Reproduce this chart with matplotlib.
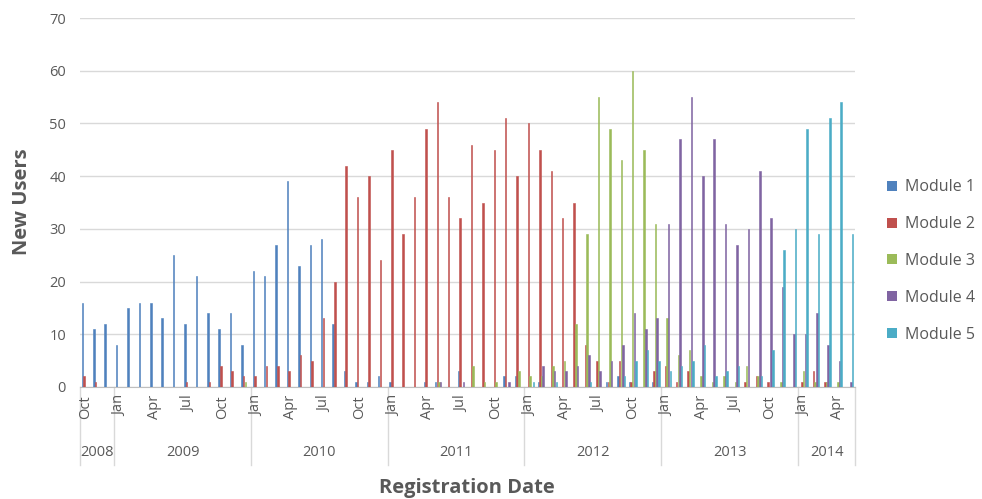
import matplotlib
matplotlib.use("Agg")
import matplotlib.pyplot as plt
import matplotlib.transforms as mtransforms
from matplotlib.patches import Patch
import numpy as np
import pandas as pd

plt.rcParams['font.family'] = ['Open Sans', 'DejaVu Sans']

# monthly categories, Oct 2008 .. May 2014
months = pd.period_range('2008-10', '2014-05', freq='M')
years = ['2008', '2009', '2010', '2011', '2012', '2013', '2014']

module1 = [16, 11, 12,
           8, 15, 16, 16, 13, 25, 12, 21, 14, 11, 14, 8,
           22, 21, 27, 39, 23, 27, 28, 12, 3, 1, 1, 2,
           1, 0, 0, 1, 1, 0, 3, 0, 0, 0, 2, 2,
           0, 1, 0, 0, 0, 0, 0, 1, 2, 1, 0, 1,
           0, 0, 0, 0, 0, 0, 0, 0, 0, 0, 0, 0,
           0, 0, 0, 0, 0]
module2 = [2, 1, 0,
           0, 0, 0, 0, 0, 0, 1, 0, 1, 4, 3, 2,
           2, 4, 4, 3, 6, 5, 13, 20, 42, 36, 40, 24,
           45, 29, 36, 49, 54, 36, 32, 46, 35, 45, 51, 40,
           50, 45, 41, 32, 35, 8, 5, 1, 5, 1, 0, 3,
           4, 1, 3, 0, 0, 0, 0, 1, 2, 1, 0, 0,
           1, 3, 1, 0, 0]
module3 = [0, 0, 0,
           0, 0, 0, 0, 0, 0, 0, 0, 0, 0, 0, 1,
           0, 0, 0, 0, 0, 0, 0, 0, 0, 0, 0, 0,
           0, 0, 0, 0, 1, 0, 0, 4, 1, 1, 0, 3,
           2, 2, 4, 5, 12, 29, 55, 49, 43, 60, 45, 31,
           13, 6, 7, 2, 1, 2, 1, 4, 2, 0, 1, 0,
           3, 1, 1, 1, 0]
module4 = [0, 0, 0,
           0, 0, 0, 0, 0, 0, 0, 0, 0, 0, 0, 0,
           0, 0, 0, 0, 0, 0, 0, 0, 0, 0, 0, 0,
           0, 0, 0, 0, 1, 0, 1, 0, 0, 0, 1, 0,
           0, 4, 3, 3, 4, 6, 3, 5, 8, 14, 11, 13,
           31, 47, 55, 40, 47, 31, 27, 30, 41, 32, 19, 10,
           10, 14, 8, 5, 1]
module5 = [0, 0, 0,
           0, 0, 0, 0, 0, 0, 0, 0, 0, 0, 0, 0,
           0, 0, 0, 0, 0, 0, 0, 0, 0, 0, 0, 0,
           0, 0, 0, 0, 0, 0, 0, 0, 0, 0, 0, 0,
           1, 0, 1, 0, 0, 1, 0, 0, 2, 5, 7, 5,
           3, 4, 5, 8, 2, 3, 4, 0, 2, 7, 26, 30,
           49, 29, 51, 54, 29]

series = [module1, module2, module3, module4, module5]
names = ['Module 1', 'Module 2', 'Module 3', 'Module 4', 'Module 5']
colors = ['#4F81BD', '#C0504D', '#9BBB59', '#8064A2', '#4BACC6']
txt = '#595959'

fig = plt.figure(figsize=(9.82, 4.99), dpi=100)
ax = fig.add_axes([80 / 982, 1 - 387 / 499, 775 / 982, 369 / 499])

n = len(months)
xc = np.arange(n) + 0.5
for k, vals in enumerate(series):
    ax.bar(xc + (k - 2) * 0.145, vals, width=0.13, color=colors[k],
           edgecolor=colors[k], linewidth=0.4, zorder=3)

ax.set_xlim(0, n)
ax.set_ylim(0, 70)
ax.set_yticks(range(0, 71, 10))
ax.yaxis.grid(True, color='#D9D9D9', lw=1, zorder=0)
ax.set_axisbelow(True)
for s in ['top', 'right', 'left']:
    ax.spines[s].set_visible(False)
ax.spines['bottom'].set_color('#BFBFBF')
ax.tick_params(axis='y', length=0, pad=10, labelsize=10.5, labelcolor=txt)
ax.set_xticks([])

trans = mtransforms.blended_transform_factory(ax.transData, ax.transAxes)

# month labels every quarter
for i, p in enumerate(months):
    if p.month in (1, 4, 7, 10):
        ax.text(i + 0.5, -0.022, p.strftime('%b'), rotation=90, ha='center',
                va='top', fontsize=10.5, color=txt, transform=trans)

# year groups
year_idx = np.array([p.year for p in months])
bounds = [0]
for y in years:
    idx = np.where(year_idx == int(y))[0]
    lo, hi = idx[0], idx[-1] + 1
    bounds.append(hi)
    ax.text((lo + hi) / 2, -0.178, y, ha='center', va='center',
            fontsize=10.5, color=txt, transform=trans)
for b in bounds:
    ax.plot([b, b], [0, -0.212], color='#D9D9D9', lw=1, transform=trans,
            clip_on=False)

fig.text(467 / 982, 1 - 488 / 499, 'Registration Date', ha='center',
         va='center', fontsize=14.5, fontweight='bold', color=txt)
fig.text(22 / 982, 1 - 202 / 499, 'New Users', ha='center', va='center',
         rotation=90, fontsize=14.5, fontweight='bold', color=txt)

handles = [Patch(facecolor=c, edgecolor='none') for c in colors]
fig.legend(handles, names, loc='center left',
           bbox_to_anchor=(873 / 982, 1 - 261 / 499), frameon=False,
           fontsize=11.5, labelcolor=txt, labelspacing=1.3,
           handlelength=0.6, handleheight=0.6, handletextpad=0.5)

fig.savefig('out.png', dpi=100)
